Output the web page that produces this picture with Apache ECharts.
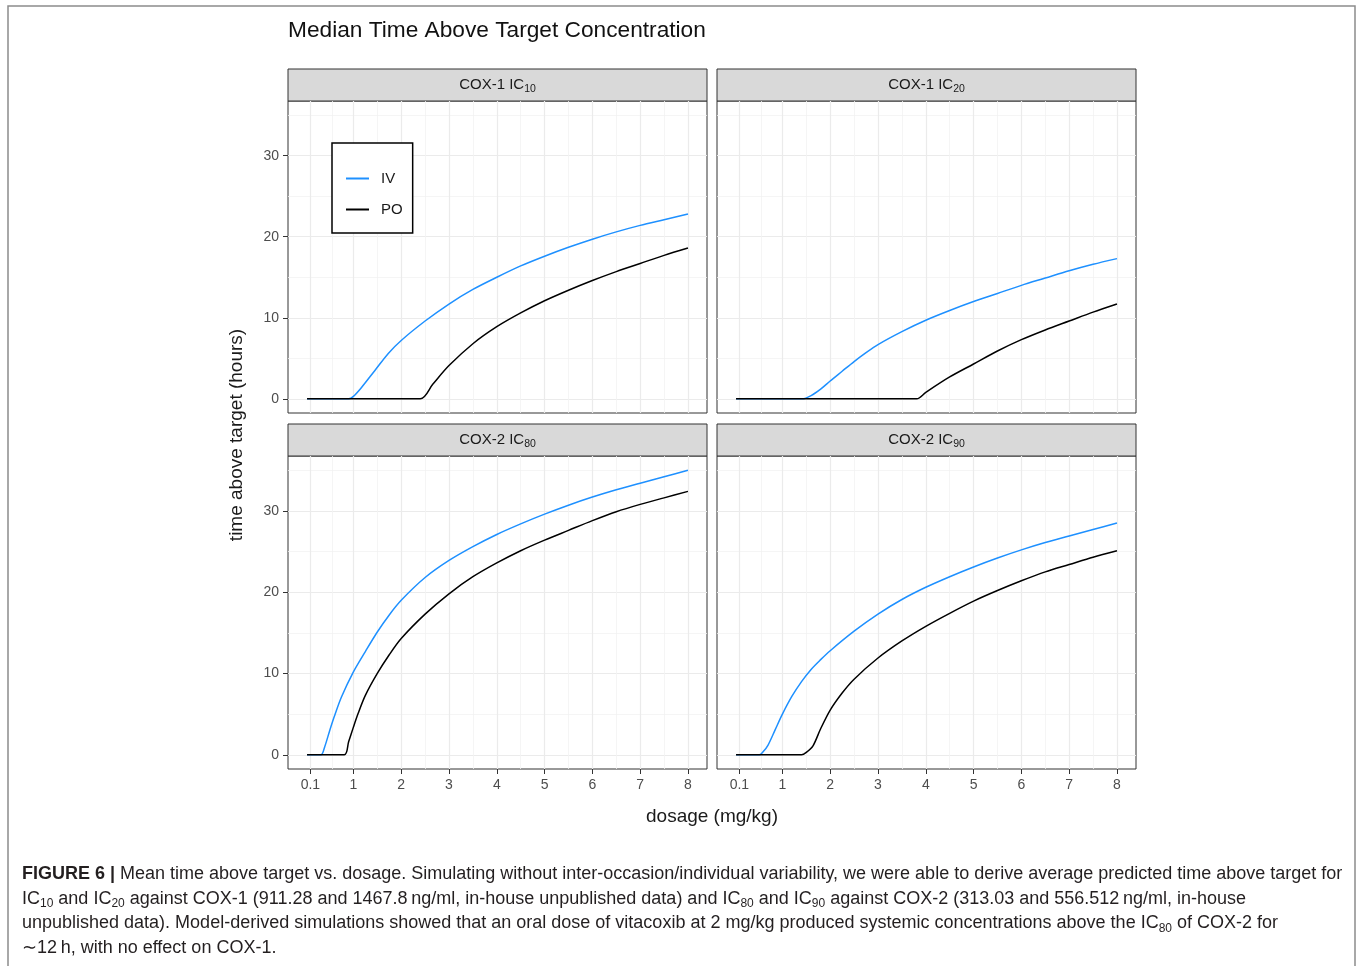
<!DOCTYPE html>
<html>
<head>
<meta charset="utf-8">
<title>Median Time Above Target Concentration</title>
<script src="https://cdn.jsdelivr.net/npm/echarts@6.0.0/dist/echarts.min.js"></script>
<style>
  html, body { margin: 0; padding: 0; background: #fff; }
  #chart { width: 1357px; height: 966px; }
</style>
</head>
<body>
<div id="chart"></div>
<script>
// ticks
const xTicks = [0.1, 1, 2, 3, 4, 5, 6, 7, 8];
const xMinorTicks = [0.55, 1.5, 2.5, 3.5, 4.5, 5.5, 6.5, 7.5];
const yTicks = [0, 10, 20, 30];
const yMinorTicks = [5, 15, 25, 35];

// facets
const panelTargets = ['COX-1', 'COX-1', 'COX-2', 'COX-2'];
const panelLevels = ['10', '20', '80', '90'];
const routes = ['IV', 'PO'];

// COX-1 IC10
const ic10IvDose = [0.03, 0.9, 1.0, 1.17, 1.45, 1.73, 2.0, 2.5, 3.0, 3.5, 4.0, 4.5, 5.0, 5.5, 6.0, 6.5, 7.0, 7.5, 8.0];
const ic10IvTime = [0, 0, 0.3, 1.4, 3.5, 5.6, 7.2, 9.6, 11.7, 13.5, 15.0, 16.4, 17.6, 18.7, 19.7, 20.6, 21.4, 22.1, 22.8];
const ic10PoDose = [0.03, 2.4, 2.66, 3.0, 3.5, 4.0, 4.5, 5.0, 5.5, 6.0, 6.5, 7.0, 7.5, 8.0];
const ic10PoTime = [0, 0, 1.8, 4.1, 6.8, 8.9, 10.6, 12.1, 13.4, 14.6, 15.7, 16.7, 17.7, 18.6];

// COX-1 IC20
const ic20IvDose = [0.03, 1.42, 1.6, 1.8, 2.0, 2.25, 2.5, 2.75, 3.0, 3.5, 4.0, 4.5, 5.0, 5.5, 6.0, 6.5, 7.0, 7.5, 8.0];
const ic20IvTime = [0, 0, 0.4, 1.2, 2.2, 3.4, 4.6, 5.7, 6.7, 8.3, 9.7, 10.9, 12.0, 13.0, 14.0, 14.9, 15.8, 16.6, 17.3];
const ic20PoDose = [0.03, 3.81, 4.0, 4.5, 5.0, 5.5, 6.0, 6.5, 7.0, 7.5, 8.0];
const ic20PoTime = [0, 0, 0.8, 2.7, 4.3, 5.9, 7.3, 8.5, 9.6, 10.7, 11.7];

// COX-2 IC80
const ic80IvDose = [0.03, 0.32, 0.4, 0.5, 0.6, 0.75, 1.0, 1.25, 1.5, 1.75, 2.0, 2.5, 3.0, 3.5, 4.0, 4.5, 5.0, 5.5, 6.0, 6.5, 7.0, 7.5, 8.0];
const ic80IvTime = [0, 0, 1.0, 2.9, 4.7, 7.1, 10.2, 12.7, 15.1, 17.2, 19.0, 21.8, 23.9, 25.6, 27.1, 28.4, 29.6, 30.7, 31.7, 32.6, 33.4, 34.2, 35.0];
const ic80PoDose = [0.03, 0.81, 0.9, 1.0, 1.1, 1.25, 1.5, 1.75, 2.0, 2.5, 3.0, 3.5, 4.0, 4.5, 5.0, 5.5, 6.0, 6.5, 7.0, 7.5, 8.0];
const ic80PoTime = [0, 0, 1.6, 3.4, 5.1, 7.3, 10.0, 12.3, 14.3, 17.3, 19.8, 21.9, 23.6, 25.1, 26.4, 27.6, 28.8, 29.9, 30.8, 31.6, 32.4];

// COX-2 IC90
const ic90IvDose = [0.03, 0.52, 0.6, 0.7, 0.85, 1.0, 1.2, 1.4, 1.6, 1.8, 2.0, 2.5, 3.0, 3.5, 4.0, 4.5, 5.0, 5.5, 6.0, 6.5, 7.0, 7.5, 8.0];
const ic90IvTime = [0, 0, 0.4, 1.2, 3.1, 5.0, 7.2, 9.0, 10.5, 11.7, 12.8, 15.2, 17.3, 19.1, 20.6, 21.9, 23.1, 24.2, 25.2, 26.1, 26.9, 27.7, 28.5];
const ic90PoDose = [0.03, 1.4, 1.5, 1.64, 1.8, 2.0, 2.25, 2.5, 3.0, 3.5, 4.0, 4.5, 5.0, 5.5, 6.0, 6.5, 7.0, 7.5, 8.0];
const ic90PoTime = [0, 0, 0.3, 1.1, 3.2, 5.5, 7.6, 9.3, 11.9, 14.0, 15.8, 17.4, 18.9, 20.2, 21.4, 22.5, 23.4, 24.3, 25.1];

const curves = [
    [[ic10IvDose, ic10IvTime], [ic10PoDose, ic10PoTime]],
    [[ic20IvDose, ic20IvTime], [ic20PoDose, ic20PoTime]],
    [[ic80IvDose, ic80IvTime], [ic80PoDose, ic80PoTime]],
    [[ic90IvDose, ic90IvTime], [ic90PoDose, ic90PoTime]]
];

const zip = (a, b) => a.map((v, i) => [v, b[i]]);

// ggplot style 5% expansion on shared scales
const allDose = [].concat(...curves.map(c => c[0][0].concat(c[1][0])));
const allTime = [].concat(...curves.map(c => c[0][1].concat(c[1][1])));
const dMin = Math.min(...allDose), dMax = Math.max(...allDose);
const tMin = Math.min(...allTime), tMax = Math.max(...allTime);
const xMin = dMin - 0.05 * (dMax - dMin), xMax = dMax + 0.05 * (dMax - dMin);
const yMin = tMin - 0.05 * (tMax - tMin), yMax = tMax + 0.05 * (tMax - tMin);

const colors = ['#1E90FF', '#000000'];
const font = 'Liberation Sans';

// panel boxes
const boxes = [
    { left: 288, top: 101, width: 419, height: 312 },
    { left: 717, top: 101, width: 419, height: 312 },
    { left: 288, top: 456, width: 419, height: 313 },
    { left: 717, top: 456, width: 419, height: 313 }
];
const stripH = 32;

const chart = echarts.init(document.getElementById('chart'));

const grids = boxes.map(b => ({
    left: b.left, top: b.top, width: b.width, height: b.height,
    show: true, borderColor: '#333', borderWidth: 1, backgroundColor: 'transparent'
}));

const xAxes = [];
const yAxes = [];
boxes.forEach((b, i) => {
    const bottomRow = i >= 2;
    const leftCol = i % 2 === 0;
    xAxes.push({
        type: 'value', gridIndex: i, min: xMin, max: xMax, position: 'bottom',
        axisLine: { show: false, onZero: false },
        axisTick: { show: bottomRow, customValues: xTicks, length: 5, lineStyle: { color: '#333' } },
        axisLabel: { show: bottomRow, customValues: xTicks, color: '#4D4D4D', fontSize: 14, margin: 9, fontFamily: font },
        splitLine: { show: true, lineStyle: { color: '#EBEBEB', width: 1.2 } }
    });
    yAxes.push({
        type: 'value', gridIndex: i, min: yMin, max: yMax, position: 'left',
        axisLine: { show: false, onZero: false },
        axisTick: { show: leftCol, customValues: yTicks, length: 5, lineStyle: { color: '#333' } },
        axisLabel: { show: leftCol, customValues: yTicks, color: '#4D4D4D', fontSize: 14, margin: 9, fontFamily: font },
        splitLine: { show: true, lineStyle: { color: '#EBEBEB', width: 1.2 } }
    });
});
// minor grid lines
boxes.forEach((b, i) => {
    xAxes.push({
        type: 'value', gridIndex: i, min: xMin, max: xMax, position: 'top',
        axisLine: { show: false, onZero: false },
        axisTick: { show: false, customValues: xMinorTicks },
        axisLabel: { show: false, customValues: xMinorTicks },
        splitLine: { show: true, lineStyle: { color: '#F2F2F2', width: 0.8 } }
    });
    yAxes.push({
        type: 'value', gridIndex: i, min: yMin, max: yMax, position: 'right',
        axisLine: { show: false, onZero: false },
        axisTick: { show: false, customValues: yMinorTicks },
        axisLabel: { show: false, customValues: yMinorTicks },
        splitLine: { show: true, lineStyle: { color: '#F2F2F2', width: 0.8 } }
    });
});

const series = [];
curves.forEach((c, i) => {
    c.forEach((pair, r) => {
        series.push({
            name: routes[r], type: 'line', xAxisIndex: i, yAxisIndex: i,
            data: zip(pair[0], pair[1]),
            symbol: 'none', smooth: 0.3,
            lineStyle: { color: colors[r], width: 1.5 },
            itemStyle: { color: colors[r] },
            emphasis: { disabled: true }, z: 3
        });
    });
});

const graphics = [];
// outer frame of the figure
graphics.push({ type: 'rect', shape: { x: 8, y: 6, width: 1347, height: 980 },
    style: { fill: 'none', stroke: '#8C8C8C', lineWidth: 1.5 }, silent: true });
// title
graphics.push({ type: 'text', x: 288, y: 31,
    style: { text: 'Median Time Above Target Concentration', fontSize: 22.7, fontFamily: font,
        fill: '#111', textAlign: 'left', textVerticalAlign: 'middle' } });
// strips
boxes.forEach((b, i) => {
    graphics.push({ type: 'rect', shape: { x: b.left, y: b.top - stripH, width: b.width, height: stripH },
        style: { fill: '#D9D9D9', stroke: '#333', lineWidth: 1 }, silent: true });
    graphics.push({ type: 'text', x: b.left + b.width / 2, y: b.top - stripH / 2,
        style: {
            text: panelTargets[i] + ' IC{s|' + panelLevels[i] + '}',
            fontSize: 15, fontFamily: font, fill: '#1A1A1A', lineHeight: 20,
            verticalAlign: 'bottom',
            textAlign: 'center', textVerticalAlign: 'middle',
            rich: { s: { fontSize: 10.5, fontFamily: font, fill: '#1A1A1A', lineHeight: 10, verticalAlign: 'bottom' } }
        } });
});
// axis titles
graphics.push({ type: 'text', x: 712, y: 817,
    style: { text: 'dosage (mg/kg)', fontSize: 19, fontFamily: font, fill: '#1A1A1A',
        textAlign: 'center', textVerticalAlign: 'middle' } });
graphics.push({ type: 'text', x: 237, y: 435, rotation: Math.PI / 2,
    style: { text: 'time above target (hours)', fontSize: 19, fontFamily: font, fill: '#1A1A1A',
        textAlign: 'center', textVerticalAlign: 'middle' } });
// caption
const captionLines = [
    '{b|FIGURE 6 |} Mean time above target vs. dosage. Simulating without inter-occasion/individual variability, we were able to derive average predicted time above target for',
    'IC{s|10} and IC{s|20} against COX-1 (911.28 and 1467.8\u2009ng/ml, in-house unpublished data) and IC{s|80} and IC{s|90} against COX-2 (313.03 and 556.512\u2009ng/ml, in-house',
    'unpublished data). Model-derived simulations showed that an oral dose of vitacoxib at 2 mg/kg produced systemic concentrations above the IC{s|80} of COX-2 for',
    '\u223C12\u2009h, with no effect on COX-1.'
];
captionLines.forEach((t, k) => {
    graphics.push({ type: 'text', x: 22, y: 874 + k * 24.7,
        style: {
            text: t, fontSize: 18, fontFamily: font, fill: '#231F20', lineHeight: 22,
            textAlign: 'left', textVerticalAlign: 'middle',
            rich: {
                b: { fontSize: 18, fontWeight: 'bold', fontFamily: font, fill: '#231F20', lineHeight: 22 },
                s: { fontSize: 12, fontFamily: font, fill: '#231F20', lineHeight: 13, verticalAlign: 'bottom' }
            }
        } });
});

chart.setOption({
    animation: false,
    textStyle: { fontFamily: font },
    grid: grids,
    xAxis: xAxes,
    yAxis: yAxes,
    legend: {
        data: routes, orient: 'vertical', left: 332, top: 143,
        itemWidth: 23, itemHeight: 14, itemGap: 16,
        padding: [28, 10, 16, 13],
        borderColor: '#000', borderWidth: 1.5, backgroundColor: '#fff',
        itemStyle: { opacity: 0 },
        textStyle: { fontSize: 15, color: '#1A1A1A', padding: [0, 0, 0, 7] },
        selectedMode: false, z: 5
    },
    series: series,
    graphic: graphics
});
</script>
</body>
</html>
